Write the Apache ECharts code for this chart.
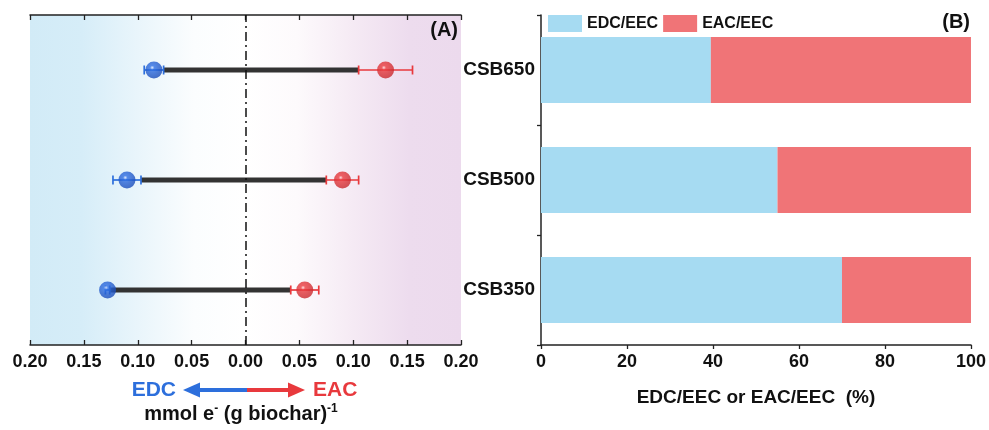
<!DOCTYPE html>
<html>
<head>
<meta charset="utf-8">
<script src="https://cdn.jsdelivr.net/npm/echarts@6/dist/echarts.min.js"></script>
<style>
html,body{margin:0;padding:0;background:#fff;}
#chart{width:989px;height:430px;}
</style>
</head>
<body>
<div id="chart"></div>
<script>
// ---- data ----
var categories = ['CSB350', 'CSB500', 'CSB650'];
var edcValues = [0.128, 0.110, 0.085];   // mmol e- (g biochar)^-1 (plotted to the left)
var edcErrors = [0.002, 0.013, 0.009];
var eacValues = [0.055, 0.090, 0.130];
var eacErrors = [0.013, 0.015, 0.025];
var edcPercent = [70, 55, 39.5];
var eacPercent = [30, 45, 60.5];
var xTicksA = [-0.2, -0.15, -0.1, -0.05, 0, 0.05, 0.1, 0.15, 0.2];
var xTicksB = [0, 20, 40, 60, 80, 100];

var FONT = '"Liberation Sans", Arial, sans-serif';
var BLUE = '#2d6fdc', RED = '#e8393d';
var BAR_BLUE = '#a6dbf2', BAR_RED = '#f07477';

function sphere(light, mid, dark) {
  return {type: 'radial', x: 0.4, y: 0.36, r: 0.7,
    colorStops: [{offset: 0, color: light}, {offset: 0.18, color: mid}, {offset: 1, color: dark}]};
}

function errorBarItem(color) {
  return function (params, api) {
    var v = api.value(1), e = api.value(2), c = api.value(0);
    var p1 = api.coord([v - e, c]);
    var p2 = api.coord([v + e, c]);
    var h = 4.5;
    var st = {stroke: color, lineWidth: 1.7};
    return {type: 'group', children: [
      {type: 'line', shape: {x1: p1[0], y1: p1[1], x2: p2[0], y2: p2[1]}, style: st},
      {type: 'line', shape: {x1: p1[0], y1: p1[1] - h, x2: p1[0], y2: p1[1] + h}, style: st},
      {type: 'line', shape: {x1: p2[0], y1: p2[1] - h, x2: p2[0], y2: p2[1] + h}, style: st}
    ]};
  };
}

var connData = categories.map(function (c, i) {
  return [i, -edcValues[i] + edcErrors[i], eacValues[i] - eacErrors[i]];
});
var edcErrData = categories.map(function (c, i) { return [i, -edcValues[i], edcErrors[i]]; });
var eacErrData = categories.map(function (c, i) { return [i, eacValues[i], eacErrors[i]]; });
var edcPts = categories.map(function (c, i) { return [-edcValues[i], i]; });
var eacPts = categories.map(function (c, i) { return [eacValues[i], i]; });

var chart = echarts.init(document.getElementById('chart'), null, {renderer: 'canvas'});

var option = {
  backgroundColor: '#fff',
  animation: false,
  textStyle: {fontFamily: FONT},
  grid: [
    {left: 30, right: 528, top: 15, bottom: 85, show: true, borderWidth: 0,
     backgroundColor: {type: 'linear', x: 0, y: 0, x2: 1, y2: 0, colorStops: [
       {offset: 0, color: '#d2ebf7'},
       {offset: 0.12, color: '#d6edf8'},
       {offset: 0.25, color: '#e9f5fb'},
       {offset: 0.38, color: '#fbfdfe'},
       {offset: 0.5, color: '#ffffff'},
       {offset: 0.62, color: '#fdfafc'},
       {offset: 0.75, color: '#f5eaf4'},
       {offset: 0.88, color: '#eddcee'},
       {offset: 1, color: '#ecdaed'}]}},
    {left: 541, right: 17, top: 15, bottom: 85}
  ],
  legend: {
    left: 548, top: 15, padding: 0, itemWidth: 34, itemHeight: 17, itemGap: 5,
    icon: 'rect',
    textStyle: {fontFamily: FONT, fontWeight: 'bold', fontSize: 16, color: '#111'},
    data: ['EDC/EEC', 'EAC/EEC']
  },
  xAxis: [
    {gridIndex: 0, type: 'value', min: -0.2, max: 0.2, interval: 0.05, position: 'bottom',
     axisLine: {show: true, lineStyle: {color: '#222', width: 1.5}},
     axisTick: {show: true, inside: true, length: 5, lineStyle: {color: '#222', width: 1.3}},
     splitLine: {show: false},
     axisLabel: {margin: 8, color: '#111', fontWeight: 'bold', fontSize: 18, fontFamily: FONT,
       formatter: function (v) { return Math.abs(v).toFixed(2); }}},
    {gridIndex: 0, type: 'value', min: -0.2, max: 0.2, interval: 0.05, position: 'top',
     axisLine: {show: true, lineStyle: {color: '#222', width: 1.5}},
     axisTick: {show: true, inside: true, length: 5, lineStyle: {color: '#222', width: 1.3}},
     splitLine: {show: false}, axisLabel: {show: false}},
    {gridIndex: 1, type: 'value', min: 0, max: 100, interval: 20,
     axisLine: {show: true, lineStyle: {color: '#222', width: 1.5}},
     axisTick: {show: true, length: 4, lineStyle: {color: '#222', width: 1.3}},
     splitLine: {show: false},
     axisLabel: {margin: 8, color: '#111', fontWeight: 'bold', fontSize: 18, fontFamily: FONT},
     name: 'EDC/EEC or EAC/EEC  (%)', nameLocation: 'middle', nameGap: 43,
     nameTextStyle: {color: '#111', fontWeight: 'bold', fontSize: 19, fontFamily: FONT}}
  ],
  yAxis: [
    {gridIndex: 0, type: 'category', data: categories, show: false},
    {gridIndex: 1, type: 'category', data: categories,
     axisLine: {show: true, lineStyle: {color: '#222', width: 1.5}},
     axisTick: {show: true, length: 4, lineStyle: {color: '#222', width: 1.3}},
     axisLabel: {margin: 6, color: '#111', fontWeight: 'bold', fontSize: 19, fontFamily: FONT},
     splitLine: {show: false}}
  ],
  series: [
    {type: 'custom', xAxisIndex: 0, yAxisIndex: 0, data: connData, z: 2,
     encode: {x: [1, 2], y: 0},
     renderItem: function (params, api) {
       var c = api.value(0);
       var p1 = api.coord([api.value(1), c]);
       var p2 = api.coord([api.value(2), c]);
       return {type: 'line', shape: {x1: p1[0], y1: p1[1], x2: p2[0], y2: p2[1]},
         style: {stroke: '#333', lineWidth: 5}};
     },
     markLine: {silent: true, symbol: 'none', label: {show: false},
       lineStyle: {color: '#111', width: 1.5, type: [9, 4, 2, 4]},
       data: [{xAxis: 0}]}},
    {type: 'custom', xAxisIndex: 0, yAxisIndex: 0, data: edcErrData, z: 3,
     encode: {x: 1, y: 0}, renderItem: errorBarItem(BLUE)},
    {type: 'custom', xAxisIndex: 0, yAxisIndex: 0, data: eacErrData, z: 3,
     encode: {x: 1, y: 0}, renderItem: errorBarItem(RED)},
    {type: 'scatter', xAxisIndex: 0, yAxisIndex: 0, data: edcPts, symbolSize: 17, z: 4,
     itemStyle: {color: sphere('#dfe9ff', '#2f6fe4', '#1748b4')}},
    {type: 'scatter', xAxisIndex: 0, yAxisIndex: 0, data: eacPts, symbolSize: 17, z: 4,
     itemStyle: {color: sphere('#ffdada', '#ec3c40', '#c4252a')}},
    {name: 'EDC/EEC', type: 'bar', xAxisIndex: 2, yAxisIndex: 1, stack: 'p',
     barWidth: 66, data: edcPercent, itemStyle: {color: BAR_BLUE}},
    {name: 'EAC/EEC', type: 'bar', xAxisIndex: 2, yAxisIndex: 1, stack: 'p',
     barWidth: 66, data: eacPercent, itemStyle: {color: BAR_RED}}
  ],
  graphic: [
    {type: 'text', right: 989 - 458, top: 20,
     style: {text: '(A)', fill: '#111', font: 'bold 20px ' + FONT}},
    {type: 'text', right: 989 - 970, top: 12,
     style: {text: '(B)', fill: '#111', font: 'bold 20px ' + FONT}},
    {type: 'text', x: 176, y: 390,
     style: {text: 'EDC', fill: BLUE, font: 'bold 21px ' + FONT, align: 'right', verticalAlign: 'middle'}},
    {type: 'line', shape: {x1: 196, y1: 390, x2: 247, y2: 390}, style: {stroke: BLUE, lineWidth: 4}},
    {type: 'polygon', shape: {points: [[183, 390], [200, 382.5], [200, 397.5]]}, style: {fill: BLUE}},
    {type: 'line', shape: {x1: 247, y1: 390, x2: 292, y2: 390}, style: {stroke: RED, lineWidth: 4}},
    {type: 'polygon', shape: {points: [[305, 390], [288, 382.5], [288, 397.5]]}, style: {fill: RED}},
    {type: 'text', x: 313, y: 390,
     style: {text: 'EAC', fill: RED, font: 'bold 21px ' + FONT, align: 'left', verticalAlign: 'middle'}},
    {type: 'text', x: 241, y: 414,
     style: {text: 'mmol e{sup|-} (g biochar){sup|-1}', fill: '#111', align: 'center', verticalAlign: 'middle',
       font: 'bold 20px ' + FONT,
       rich: {sup: {fontSize: 12, fontWeight: 'bold', fontFamily: FONT, fill: '#111', verticalAlign: 'top', padding: [0, 0, 10, 0]}}}}
  ]
};
chart.setOption(option);
</script>
</body>
</html>
